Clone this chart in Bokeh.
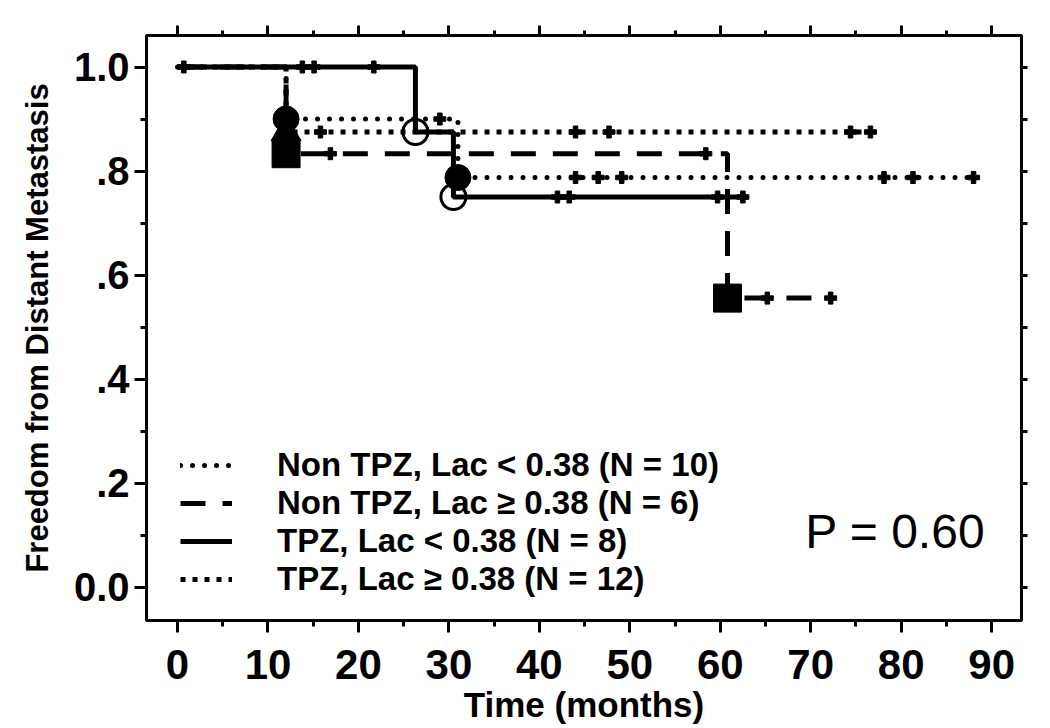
from bokeh.plotting import figure
from bokeh.models import Range1d, FixedTicker, LinearAxis, Legend, LegendItem, Label
from bokeh.embed import file_html
from bokeh.resources import INLINE

# ---------------- data ----------------
labels = ["Non TPZ, Lac < 0.38 (N = 10)",
          "Non TPZ, Lac \u2265 0.38 (N = 6)",
          "TPZ, Lac < 0.38 (N = 8)",
          "TPZ, Lac \u2265 0.38 (N = 12)"]

# Non TPZ, Lac < 0.38
g1_time = [0.0, 12.0, 31.0, 88.3]
g1_surv = [1.0, 0.9, 0.7875, 0.7875]
g1_event_time = [12.0, 31.0]
g1_event_surv = [0.9, 0.7875]
g1_cens_time = [0.7, 29.0, 44.0, 46.5, 49.1, 78.1, 81.3, 88.0]
g1_cens_surv = [1.0, 0.9, 0.7875, 0.7875, 0.7875, 0.7875, 0.7875, 0.7875]

# Non TPZ, Lac >= 0.38
g2_time = [0.0, 12.0, 60.8, 72.5]
g2_surv = [1.0, 0.8333, 0.5556, 0.5556]
g2_event_time = [12.0, 60.8]
g2_event_surv = [0.8333, 0.5556]
g2_cens_time = [16.9, 58.4, 65.2, 72.2]
g2_cens_surv = [0.8333, 0.8333, 0.5556, 0.5556]

# TPZ, Lac < 0.38
g3_time = [0.0, 26.3, 30.5, 63.0]
g3_surv = [1.0, 0.875, 0.75, 0.75]
g3_event_time = [26.3, 30.5]
g3_event_surv = [0.875, 0.75]
g3_cens_time = [13.8, 15.1, 21.7, 42.0, 43.3, 59.7, 62.5]
g3_cens_surv = [1.0, 1.0, 1.0, 0.75, 0.75, 0.75, 0.75]

# TPZ, Lac >= 0.38
g4_time = [0.0, 12.0, 77.2]
g4_surv = [1.0, 0.875, 0.875]
g4_event_time = [12.0]
g4_event_surv = [0.875]
g4_cens_time = [15.8, 44.0, 47.7, 74.4, 76.6]
g4_cens_surv = [0.875, 0.875, 0.875, 0.875, 0.875]

x_ticks = [0, 10, 20, 30, 40, 50, 60, 70, 80, 90]
x_minor = [5, 15, 25, 35, 45, 55, 65, 75, 85]
y_ticks = [0.0, 0.2, 0.4, 0.6, 0.8, 1.0]
y_minor = [0.1, 0.3, 0.5, 0.7, 0.9]
y_tick_labels = ["0.0", ".2", ".4", ".6", ".8", "1.0"]

p_text = "P = 0.60"
x_title = "Time (months)"
y_title = "Freedom from Distant Metastasis"

# ---------------- figure ----------------
FONT = "Liberation Sans"

p = figure(width=1046, height=726, output_backend="svg", toolbar_location=None,
           x_range=Range1d(-3.43, 93.3), y_range=Range1d(-0.0644, 1.0606),
           min_border_left=146, min_border_right=25, min_border_top=35,
           min_border_bottom=106)
p.grid.visible = False
p.outline_line_color = "black"
p.outline_line_width = 3

xt = FixedTicker(ticks=x_ticks, minor_ticks=x_minor)
yt = FixedTicker(ticks=y_ticks, minor_ticks=y_minor)

for ax in p.xaxis:
    ax.ticker = xt
    ax.axis_label = x_title
    ax.axis_label_text_font = FONT
    ax.axis_label_text_font_style = "bold"
    ax.axis_label_text_font_size = "35px"
    ax.axis_label_standoff = 3
    ax.major_label_text_font = FONT
    ax.major_label_text_font_style = "bold"
    ax.major_label_text_font_size = "42px"
    ax.major_label_standoff = 17

for ax in p.yaxis:
    ax.ticker = yt
    ax.major_label_overrides = {v: s for v, s in zip(y_ticks, y_tick_labels)}
    ax.axis_label = y_title
    ax.axis_label_text_font = FONT
    ax.axis_label_text_font_style = "bold"
    ax.axis_label_text_font_size = "31px"
    ax.axis_label_standoff = 16
    ax.major_label_text_font = FONT
    ax.major_label_text_font_style = "bold"
    ax.major_label_text_font_size = "40px"
    ax.major_label_standoff = 5
    ax.major_label_orientation = "horizontal"

for ax in list(p.xaxis) + list(p.yaxis):
    ax.axis_line_width = 3
    ax.major_tick_line_width = 3
    ax.minor_tick_line_width = 3
    ax.major_tick_out = 12
    ax.major_tick_in = 0
    ax.minor_tick_out = 6
    ax.minor_tick_in = 0
    ax.major_label_text_color = "black"
    ax.axis_label_text_color = "black"

top = LinearAxis(ticker=xt, major_label_text_font_size="0px", axis_line_width=3,
                 major_tick_line_width=3, minor_tick_line_width=3,
                 major_tick_out=10, major_tick_in=0, minor_tick_out=5, minor_tick_in=0,
                 major_label_standoff=0)
right = LinearAxis(ticker=yt, major_label_text_font_size="0px", axis_line_width=3,
                   major_tick_line_width=3, minor_tick_line_width=3,
                   major_tick_out=6, major_tick_in=0, minor_tick_out=6, minor_tick_in=0,
                   major_label_standoff=0)
p.add_layout(top, "above")
p.add_layout(right, "right")

# ---------------- curves ----------------
r1 = p.step(g1_time, g1_surv, mode="after", line_color="black", line_width=5,
            line_dash="0 12", line_cap="round")
r4 = p.step(g4_time, g4_surv, mode="after", line_color="black", line_width=5,
            line_dash="5 7", line_cap="butt")
r2 = p.step(g2_time, g2_surv, mode="after", line_color="black", line_width=5,
            line_dash="25 17", line_cap="butt")
r3 = p.step(g3_time, g3_surv, mode="after", line_color="black", line_width=5)

# censor marks
for ct, cs in [(g1_cens_time, g1_cens_surv), (g2_cens_time, g2_cens_surv),
               (g3_cens_time, g3_cens_surv), (g4_cens_time, g4_cens_surv)]:
    p.scatter(ct, cs, marker="plus", size=12, color="black")

# event markers
p.scatter(g1_event_time, g1_event_surv, marker="circle", size=26, color="black")
p.scatter(g2_event_time, g2_event_surv, marker="square", size=28, color="black")
p.scatter(g3_event_time, g3_event_surv, marker="circle", size=25,
          fill_alpha=0.0, line_color="black", line_width=3)
p.scatter(g4_event_time, g4_event_surv, marker="triangle", size=30, color="black")

legend = Legend(items=[LegendItem(label=labels[0], renderers=[r1]),
                       LegendItem(label=labels[1], renderers=[r2]),
                       LegendItem(label=labels[2], renderers=[r3]),
                       LegendItem(label=labels[3], renderers=[r4])],
                location=(34, 22), orientation="vertical",
                label_text_font=FONT, label_text_font_style="bold",
                label_text_font_size="33px", label_text_color="black",
                label_standoff=45, glyph_width=52, glyph_height=30, label_height=30,
                spacing=-3, padding=0, margin=0,
                border_line_color=None, background_fill_alpha=0.0)
p.add_layout(legend)

p.add_layout(Label(x=69.4, y=0.106, text=p_text, text_font=FONT,
                   text_font_size="48px", text_baseline="alphabetic",
                   text_color="black"))

open("out.html", "w").write(file_html(p, INLINE))
